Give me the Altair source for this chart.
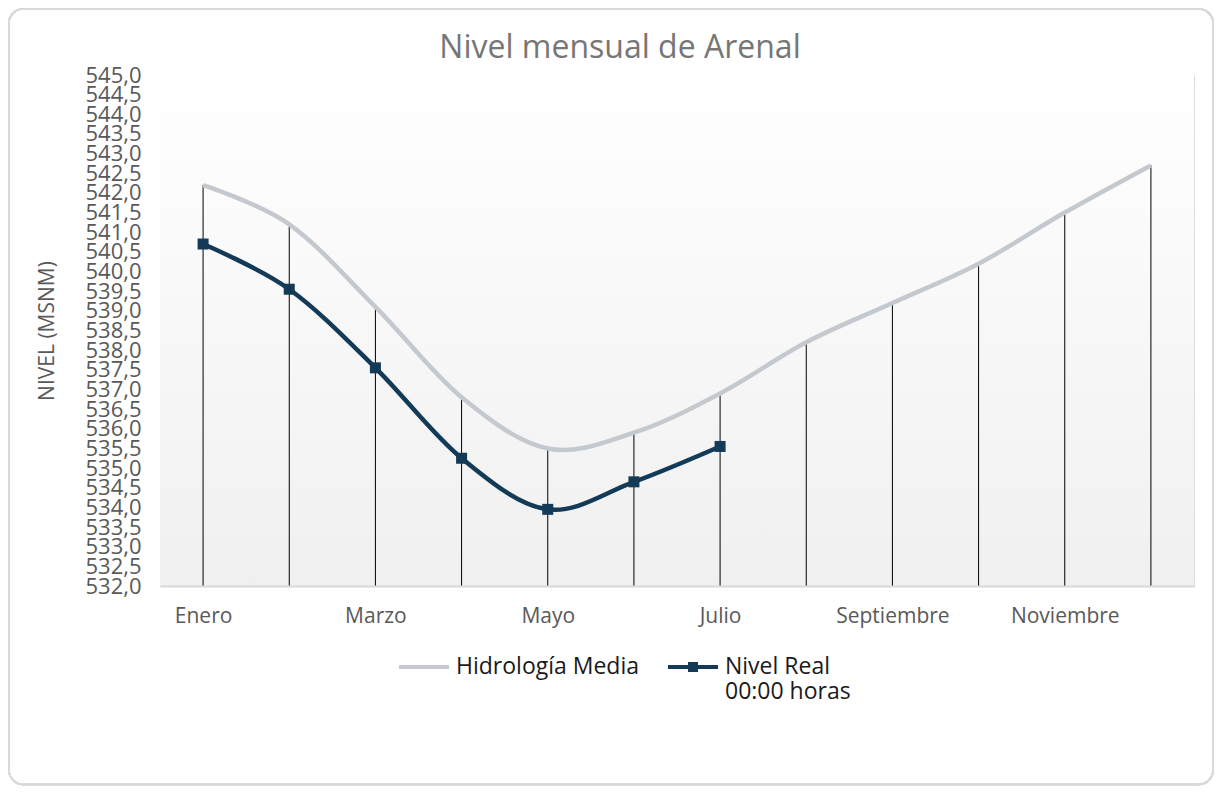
import altair as alt
import pandas as pd

# ---- data ----
months = ["Enero", "Febrero", "Marzo", "Abril", "Mayo", "Junio", "Julio",
          "Agosto", "Septiembre", "Octubre", "Noviembre", "Diciembre"]
shown_months = ["Enero", "Marzo", "Mayo", "Julio", "Septiembre", "Noviembre"]
hidrologia_media = [542.2, 541.2, 539.1, 536.8, 535.5, 535.9, 536.9,
                    538.2, 539.2, 540.2, 541.5, 542.7]
nivel_real = [540.7, 539.55, 537.55, 535.25, 533.95, 534.65, 535.55,
              None, None, None, None, None]
series_names = ["Hidrología Media", "Nivel Real 00:00 horas"]
series_colors = ["#c4c9d0", "#133a57"]
y_ticks = [532.0, 532.5, 533.0, 533.5, 534.0, 534.5, 535.0, 535.5, 536.0,
           536.5, 537.0, 537.5, 538.0, 538.5, 539.0, 539.5, 540.0, 540.5,
           541.0, 541.5, 542.0, 542.5, 543.0, 543.5, 544.0, 544.5, 545.0]

df = pd.DataFrame({"mes": months, "hidro": hidrologia_media, "real": nivel_real})
df_leg = pd.DataFrame({"serie": series_names})

W, H = 1034, 511
FONT = "Open Sans"

x_enc = alt.X("mes:N", sort=months,
              scale=alt.Scale(type="point", domain=months, padding=0.5),
              axis=alt.Axis(
                  title=None, labelAngle=0, grid=False, ticks=False, zindex=1,
                  domainColor="#d9d9d9", domainWidth=2,
                  labelFont=FONT, labelFontSize=21, labelColor="#595959",
                  labelPadding=19,
                  labelExpr="indexof(" + str(shown_months) + ", datum.value) >= 0 ? datum.value : ''"))

y_scale = alt.Scale(domain=[532, 545], nice=False, zero=False)
y_axis = alt.Axis(values=y_ticks, grid=False, ticks=False, domain=False,
                  labelOverlap=False, labelFlush=False,
                  labelExpr="replace(format(datum.value, '.1f'), '.', ',')",
                  labelFont=FONT, labelFontSize=22, labelColor="#595959",
                  labelPadding=19,
                  title="NIVEL (MSNM)", titleFont=FONT, titleFontSize=21,
                  titleFontWeight="normal", titleColor="#595959", titlePadding=27)

base = alt.Chart(df)

border = base.mark_rect(fill="transparent", stroke="#d9d9d9", strokeWidth=1.5,
                        cornerRadius=15).encode(
    x=alt.value(-151.25), x2=alt.value(1053.25), y=alt.value(-66.25), y2=alt.value(709.5))

bg = base.mark_rect(color=alt.Gradient(
    gradient="linear",
    stops=[alt.GradientStop(color="#ffffff", offset=0),
           alt.GradientStop(color="#f0f0f0", offset=1)],
    x1=0, x2=0, y1=0, y2=1)).encode(
    x=alt.value(0), x2=alt.value(W), y=alt.value(0), y2=alt.value(H))

drops = base.mark_rule(color="black", strokeWidth=1).encode(
    x=x_enc,
    y=alt.Y("hidro:Q", scale=y_scale, axis=y_axis),
    y2=alt.datum(532))

hidro_line = base.mark_line(color=series_colors[0], strokeWidth=4.5,
                            interpolate="cardinal").encode(
    x=x_enc, y=alt.Y("hidro:Q", scale=y_scale, axis=y_axis))

real_line = base.mark_line(color=series_colors[1], strokeWidth=4.5,
                           interpolate="cardinal").transform_filter(
    "isValid(datum.real)").encode(
    x=x_enc, y=alt.Y("real:Q", scale=y_scale, axis=y_axis))

real_pts = base.mark_point(shape="square", filled=True, size=121, opacity=1,
                           color=series_colors[1]).transform_filter(
    "isValid(datum.real)").encode(
    x=x_enc, y=alt.Y("real:Q", scale=y_scale, axis=y_axis))

line_path = "M-1,0H1"
line_sq_path = "M-1,0H1M-0.2,-0.12H0.2M-0.2,0H0.2M-0.2,0.12H0.2"

leg = alt.Legend(
    title=None, orient="none", legendX=237, legendY=565,
    direction="horizontal", columns=2, columnPadding=20,
    symbolSize=2500, symbolStrokeWidth=4, symbolOpacity=1,
    labelFont=FONT, labelFontSize=23, labelColor="#1a1a1a", labelOffset=5,
    labelLimit=400,
    labelExpr="datum.label == 'Nivel Real 00:00 horas' ? ['Nivel Real', '00:00 horas'] : [datum.label, '']")

legend_layer = alt.Chart(df_leg).mark_point(filled=False, strokeWidth=4, size=2500).encode(
    color=alt.Color("serie:N", scale=alt.Scale(domain=series_names, range=series_colors), legend=leg),
    shape=alt.Shape("serie:N", scale=alt.Scale(domain=series_names, range=[line_path, line_sq_path]), legend=leg),
).transform_filter("false")

chart = alt.layer(border, bg, drops, hidro_line, real_line, real_pts, legend_layer).properties(
    width=W, height=H,
    title=alt.TitleParams("Nivel mensual de Arenal", font=FONT, fontSize=32,
                          fontWeight="normal", color="#767676", anchor="middle",
                          frame="group", dx=-57, offset=-82, baseline="alphabetic"),
    padding={"left": 152, "top": 67, "right": 20, "bottom": 200},
    autosize=alt.AutoSizeParams(type="none"),
).configure_view(stroke=None).configure(background="white")

chart.save("out.html", embed_options={"renderer": "svg", "actions": False})
